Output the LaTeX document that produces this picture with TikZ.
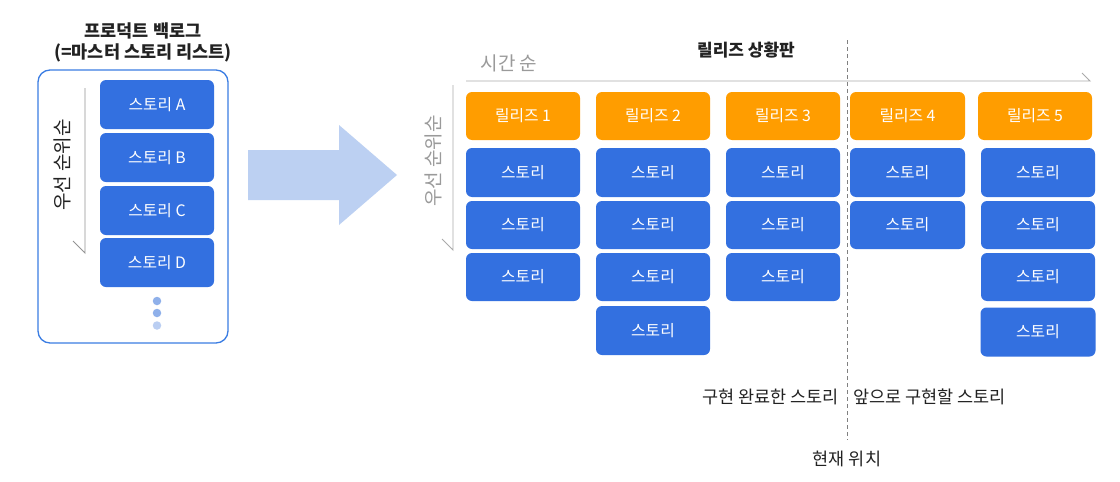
\documentclass[tikz,border=0pt]{standalone}
\usepackage{fontspec}
\setmainfont{Noto Sans CJK KR}
\newfontfamily\kr{Noto Sans CJK KR}
\definecolor{storyblue}{HTML}{3370E0}
\definecolor{relorange}{HTML}{FF9D00}
\definecolor{panelblue}{HTML}{3B7DE3}
\definecolor{arrowblue}{HTML}{BCD0F2}
\definecolor{axisgray}{HTML}{AAAAAA}
\definecolor{labelgray}{HTML}{9A9A9A}
\definecolor{dotA}{HTML}{8FB0EA}
\definecolor{dotB}{HTML}{BACEF2}
\definecolor{textdark}{HTML}{222222}
\tikzset{
  box/.style={rounded corners=6pt, draw=none, text=white, font=\kr\fontsize{15.8}{18}\selectfont, inner sep=0pt},
  storybox/.style={box, fill=storyblue},
  relbox/.style={box, fill=relorange},
  axis/.style={draw=axisgray, line width=0.9pt},
  caption/.style={font=\kr\fontsize{17.5}{20}\selectfont, text=textdark, inner sep=0pt},
  titletext/.style={font=\kr\bfseries\fontsize{17.5}{21}\selectfont, text=textdark, inner sep=0pt, align=center},
  graylabel/.style={font=\kr\fontsize{19}{22}\selectfont, text=labelgray, inner sep=0pt},
}
\begin{document}
\begin{tikzpicture}[x=1pt,y=-1pt]
\useasboundingbox (0,0) rectangle (1120,482);
\fill[white] (0,0) rectangle (1120,482);

% ---------- left panel ----------
\node[titletext] (bltitle) at (143,42.5) {프로덕트 백로그\\(=마스터 스토리 리스트)};
\draw[panelblue, line width=1.3pt, rounded corners=12pt] (38,70) rectangle (228,343);
\node[storybox, minimum width=114pt, minimum height=49pt] (sA) at (157,104.5) {스토리 A};
\node[storybox, minimum width=114pt, minimum height=49pt] (sB) at (157,157.5) {스토리 B};
\node[storybox, minimum width=114pt, minimum height=49pt] (sC) at (157,210.5) {스토리 C};
\node[storybox, minimum width=114pt, minimum height=49pt] (sD) at (157,262.5) {스토리 D};
\node[circle, fill=dotA, minimum size=8.5pt, inner sep=0pt] (d1) at (157,301) {};
\node[circle, fill=dotA, minimum size=8.5pt, inner sep=0pt] (d2) at (157,313) {};
\node[circle, fill=dotB, minimum size=8.5pt, inner sep=0pt] (d3) at (157,325.5) {};
\coordinate (la1) at (85,88);
\coordinate (la2) at (85,253);
\coordinate (la3) at (73,241);
\draw[axis, draw=gray!85] (la1) -- (la2) -- (la3);
\node[font=\kr\fontsize{19}{22}\selectfont, text=textdark, rotate=90, inner sep=0pt] (lprio) at (62,165) {우선 순위순};

% ---------- big arrow ----------
\fill[arrowblue] (248,150) -- (339,150) -- (339,125) -- (397,175) -- (339,225) -- (339,200) -- (248,200) -- cycle;

% ---------- right board ----------
\node[font=\kr\bfseries\fontsize{17}{20}\selectfont, text=textdark, inner sep=0pt] (rtitle) at (746,50) {릴리즈 상황판};
\node[graylabel] (timelbl) at (509,63) {시간 순};
\coordinate (ha1) at (466,81);
\coordinate (ha2) at (1090,81);
\coordinate (ha3) at (1082,73);
\draw[axis] (ha1) -- (ha2) -- (ha3);
\coordinate (va1) at (453,85);
\coordinate (va2) at (453,250);
\coordinate (va3) at (442,239);
\draw[axis] (va1) -- (va2) -- (va3);
\node[graylabel, rotate=90] (rprio) at (433,161) {우선 순위순};

% release boxes
\foreach \n/\xa/\xb in {1/466/580, 2/596/710, 3/726/840, 4/850/965, 5/978/1092}{
  \node[relbox, minimum width={\xb-\xa}, minimum height=48pt] (r\n) at ({(\xa+\xb)/2},116) {릴리즈 \n};
}
% story boxes
\foreach \c/\xa/\xb/\rows in {1/466/580/3, 2/596/710/4, 3/726/840/3, 4/850/965/2, 5/981/1095/3}{
  \foreach \r/\ya/\yb in {1/148/197, 2/201/249, 3/253/301, 4/306/355}{
    \ifnum\r>\rows\relax\else
      \node[storybox, minimum width={\xb-\xa}, minimum height={\yb-\ya}] (s\c\r) at ({(\xa+\xb)/2},{(\ya+\yb)/2}) {스토리};
    \fi
  }
}
\node[storybox, minimum width=115pt, minimum height=49pt] (s54) at (1038,332) {스토리};

% current position line
\coordinate (cur1) at (847,40);
\coordinate (cur2) at (847,440);
\draw[gray, line width=1pt, dash pattern=on 4pt off 3pt] (cur1) -- (cur2);
\node[caption, anchor=east] (done) at (839,397) {구현 완료한 스토리};
\node[caption, anchor=west] (todo) at (853,397) {앞으로 구현할 스토리};
\node[caption] (now) at (847,459) {현재 위치};
\end{tikzpicture}
\end{document}
